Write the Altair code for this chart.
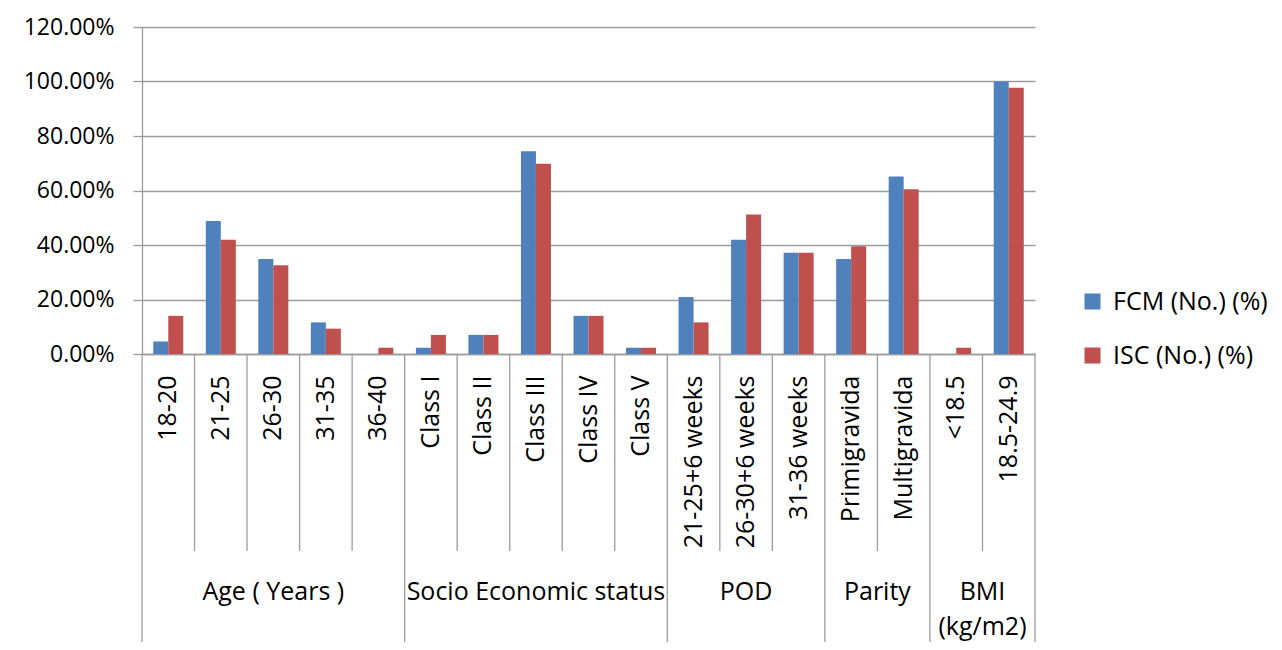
import altair as alt
import pandas as pd

categories = ["18-20", "21-25", "26-30", "31-35", "36-40",
              "Class I", "Class II", "Class III", "Class IV", "Class V",
              "21-25+6 weeks", "26-30+6 weeks", "31-36 weeks",
              "Primigravida", "Multigravida", "<18.5", "18.5-24.9"]
groups = ["Age ( Years )", "Socio Economic status", "POD", "Parity", "BMI\n(kg/m2)"]
group_sizes = [5, 5, 3, 2, 2]
series = ["FCM (No.) (%)", "ISC (No.) (%)"]
fcm = [4.6, 48.8, 34.9, 11.6, 0.0, 2.3, 7.0, 74.4, 14.0, 2.3,
       20.9, 41.9, 37.2, 34.9, 65.1, 0.0, 100.0]
isc = [14.0, 41.9, 32.6, 9.3, 2.3, 7.0, 7.0, 69.8, 14.0, 2.3,
       11.6, 51.2, 37.2, 39.5, 60.5, 2.3, 97.7]
colors = ["#4F81BD", "#C0504D"]
y_ticks = [0, 0.2, 0.4, 0.6, 0.8, 1.0, 1.2]

W, H = 893, 327
FONT = "Open Sans"
GRAY = "#9C9C9C"

rows = []
for c, a, b in zip(categories, fcm, isc):
    rows.append({"cat": c, "series": series[0], "value": a / 100})
    rows.append({"cat": c, "series": series[1], "value": b / 100})
df = pd.DataFrame(rows)

xscale = alt.Scale(domain=categories, paddingInner=0, paddingOuter=0)

bars = alt.Chart(df).mark_bar().encode(
    x=alt.X("cat:N", scale=xscale, sort=categories,
            axis=alt.Axis(title=None, labelAngle=-90, ticks=False, labelPadding=21,
                          labelFontSize=25, labelFont=FONT, labelColor="#000000",
                          labelLimit=400, domainColor=GRAY, domainWidth=1.3)),
    xOffset=alt.XOffset("series:N", sort=series,
                        scale=alt.Scale(domain=series, paddingOuter=0.75, paddingInner=0)),
    y=alt.Y("value:Q", scale=alt.Scale(domain=[0, 1.2], nice=False),
            axis=alt.Axis(title=None, format=".2%", values=y_ticks, tickSize=9,
                          tickColor=GRAY, tickWidth=1.3, domainColor=GRAY, domainWidth=1.3,
                          gridColor=GRAY, gridWidth=1.3, labelPadding=19,
                          labelFontSize=23, labelFont=FONT, labelColor="#000000")),
    color=alt.Color("series:N", sort=series,
                    scale=alt.Scale(domain=series, range=colors),
                    legend=alt.Legend(title=None, orient="none", legendX=938, legendY=262,
                                      symbolType="square", symbolSize=256,
                                      symbolStrokeWidth=0, labelFontSize=25,
                                      labelFont=FONT, labelColor="#000000",
                                      labelOffset=8, rowPadding=28)),
)

# separators under the category axis
starts = []
i = 0
for n in group_sizes:
    starts.append(i)
    i += n
short_cats = [c for k, c in enumerate(categories) if k not in starts]
long_cats = [categories[k] for k in starts]

short_rules = alt.Chart(pd.DataFrame({"cat": short_cats})).mark_rule(
    color=GRAY, strokeWidth=1.3).encode(
    x=alt.X("cat:N", scale=xscale, sort=categories, bandPosition=0),
    y=alt.value(H), y2=alt.value(H + 197))

long_rules = alt.Chart(pd.DataFrame({"cat": long_cats})).mark_rule(
    color=GRAY, strokeWidth=1.3).encode(
    x=alt.X("cat:N", scale=xscale, sort=categories, bandPosition=0),
    y=alt.value(H), y2=alt.value(H + 288))

end_rule = alt.Chart(pd.DataFrame({"cat": [categories[-1]]})).mark_rule(
    color=GRAY, strokeWidth=1.3).encode(
    x=alt.X("cat:N", scale=xscale, sort=categories, bandPosition=1),
    y=alt.value(H), y2=alt.value(H + 288))

odd_rows, even_rows = [], []
for g, s, n in zip(groups, starts, group_sizes):
    mid = categories[s + n // 2]
    (odd_rows if n % 2 else even_rows).append({"cat": mid, "label": g})


def group_text(rows_, bp):
    return alt.Chart(pd.DataFrame(rows_)).mark_text(
        font=FONT, fontSize=25, color="#000000", baseline="top",
        align="center", lineBreak="\n", lineHeight=35).encode(
        x=alt.X("cat:N", scale=xscale, sort=categories, bandPosition=bp),
        y=alt.value(H + 226), text="label:N")


chart = alt.layer(
    bars, short_rules, long_rules, end_rule,
    group_text(odd_rows, 0.5), group_text(even_rows, 0),
).properties(
    width=W, height=H,
    padding={"left": 15, "top": 8, "right": 5, "bottom": 5},
).configure_view(stroke=None)

chart.save("out.html", embed_options={"renderer": "svg", "actions": False})
